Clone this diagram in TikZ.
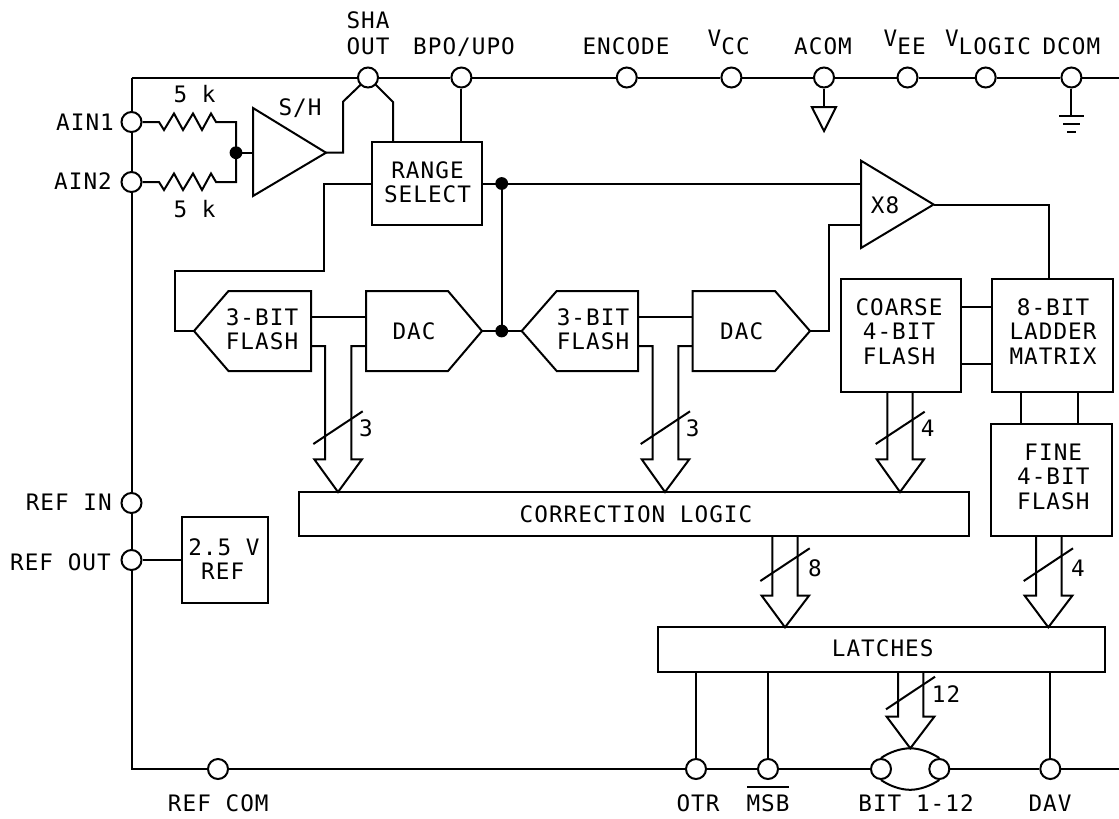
\documentclass[tikz,border=0pt]{standalone}
\usepackage{fontspec}
\setmainfont{DejaVu Sans Mono}[LetterSpace=4.5]
\usetikzlibrary{fit}
\newcommand{\Vup}{\raisebox{5.8pt}{V}}
\tikzset{
  wire/.style={line width=1.5pt,line join=miter,black},
  lbl/.style={anchor=base,inner sep=0pt,font=\fontsize{17}{20}\selectfont},
  term/.style={circle,draw,wire,fill=white,minimum size=15pt,inner sep=0pt},
  dotj/.style={circle,fill=black,minimum size=9.6pt,inner sep=0pt},
  blockb/.style={rectangle,draw,wire,fill=white,inner sep=0pt},
}
\begin{document}
\begin{tikzpicture}[x=0.75pt,y=-0.75pt]
\useasboundingbox (0,0) rectangle (1119,818);
% rail corners
\coordinate (tl) at (131.5,77.5);
\coordinate (tr) at (1119,77.5);
\coordinate (bl) at (131.5,769);
\coordinate (br) at (1119,769);
% terminals
\node[term] (sha) at (368,77.5) {};
\node[term] (bpo) at (461.4,77.5) {};
\node[term] (enc) at (626.8,77.5) {};
\node[term] (vcc) at (731.4,77.5) {};
\node[term] (acom) at (824,77.5) {};
\node[term] (vee) at (907.5,77.5) {};
\node[term] (vlog) at (985.7,77.5) {};
\node[term] (dcom) at (1071.4,77.5) {};
\node[term] (ain1) at (131.5,122) {};
\node[term] (ain2) at (131.5,182) {};
\node[term] (refin) at (131.5,503) {};
\node[term] (refout) at (131.5,560) {};
\node[term] (refcom) at (218,769) {};
\node[term] (otr) at (696,769) {};
\node[term] (msb) at (768,769) {};
\node[term] (bitl) at (881,769) {};
\node[term] (bitr) at (939.3,769) {};
\node[term] (dav) at (1050.3,769) {};
% rails
\draw[wire] (tl) -- (sha) -- (bpo) -- (enc) -- (vcc) -- (acom) -- (vee) -- (vlog) -- (dcom) -- (tr);
\draw[wire] (tl) -- (ain1) -- (ain2) -- (refin) -- (refout) -- (bl) -- (refcom) -- (otr) -- (msb) -- (bitl);
\draw[wire] (bitr) -- (dav) -- (br);
% BIT lens
\coordinate (lensT) at (910.2,748.3);
\coordinate (lensB) at (910.2,789.8);
\draw[wire] (bitl.north) .. controls (889,752.5) and (900,748.3) .. (lensT) .. controls (920,748.3) and (931,752.5) .. (bitr.north);
\draw[wire] (bitl.south) .. controls (889,785.5) and (900,789.8) .. (lensB) .. controls (920,789.8) and (931,785.5) .. (bitr.south);
% grounds
\coordinate (agnd) at (824,107);
\draw[wire] (acom) -- (agnd);
\draw[wire] (811.8,107) -- (836,107) -- (824,131) -- cycle;
\coordinate (dgnd) at (1071.4,115.7);
\draw[wire] (dcom) -- (dgnd);
\draw[wire] (1059,115.7) -- (1084,115.7);
\draw[wire] (1063,124) -- (1080,124);
\draw[wire] (1067,132.3) -- (1076,132.3);
% resistors
\coordinate (sum) at (236,152.7);
\coordinate (r1e) at (236,122);
\coordinate (r2e) at (236,182);
\draw[wire] (ain1) -- (159,122) -- (164,130) -- (174,113.5) -- (183,130) -- (193,113.5) -- (202,130) -- (211,113.5) -- (216,122) -- (r1e) -- (sum);
\draw[wire] (ain2) -- (159,182) -- (164,190) -- (174,173.5) -- (183,190) -- (193,173.5) -- (202,190) -- (211,173.5) -- (216,182) -- (r2e) -- (sum);
% S/H
\coordinate (shIn) at (253,152.7);
\coordinate (shOut) at (326,152.7);
\draw[wire] (253,108) -- (253,196) -- (shOut) -- cycle;
\draw[wire] (sum) -- (shIn);
\node[dotj] (sumdot) at (sum) {};
\coordinate (shaL) at (361.4,84);
\coordinate (shaR) at (375,84);
\draw[wire] (shOut) -- (343,152.7) -- (343,101.7) -- (shaL);
% blocks
\coordinate (rs1) at (372,142); \coordinate (rs2) at (482,225);
\node[blockb,fit={(rs1)(rs2)}] (range) {};
\draw[wire] (shaR) -- (393,102) -- (393,142);
\draw[wire] (bpo) -- (461.4,142);
\coordinate (vr1) at (182,517); \coordinate (vr2) at (267.7,603);
\node[blockb,fit={(vr1)(vr2)}] (vref) {};
\draw[wire] (refout) -- (vref.west |- refout);
\coordinate (co1) at (840.7,278.7); \coordinate (co2) at (961,391.7);
\node[blockb,fit={(co1)(co2)}] (coarse) {};
\coordinate (la1) at (992,278.7); \coordinate (la2) at (1113,391.7);
\node[blockb,fit={(la1)(la2)}] (ladder) {};
\coordinate (fi1) at (991.3,424.3); \coordinate (fi2) at (1111.7,536.3);
\node[blockb,fit={(fi1)(fi2)}] (fine) {};
\coordinate (cl1) at (298.7,492); \coordinate (cl2) at (969,536.3);
\node[blockb,fit={(cl1)(cl2)}] (corr) {};
\coordinate (lt1) at (658.3,627.3); \coordinate (lt2) at (1105,671.7);
\node[blockb,fit={(lt1)(lt2)}] (latch) {};
% flash / DAC
\draw[wire] (194,331) -- (228.5,291) -- (311,291) -- (311,371) -- (228.5,371) -- cycle;
\draw[wire] (366,291) -- (448,291) -- (482,331) -- (448,371) -- (366,371) -- cycle;
\draw[wire] (521.7,331) -- (556.7,291) -- (638,291) -- (638,371) -- (556.7,371) -- cycle;
\draw[wire] (692.7,291) -- (775,291) -- (810,331) -- (775,371) -- (692.7,371) -- cycle;
\coordinate (fl1tip) at (194,331);
\coordinate (dac1tip) at (482,331);
\coordinate (fl2tip) at (521.7,331);
\coordinate (dac2tip) at (810,331);
\draw[wire] (311,316.5) -- (366,316.5);
\draw[wire] (638,316.5) -- (692.7,316.5);
% X8
\coordinate (x8a) at (861,183.5);
\coordinate (x8b) at (861,225);
\coordinate (x8o) at (933.6,204.5);
\draw[wire] (861,160.7) -- (861,248) -- (x8o) -- cycle;
% signal wires
\coordinate (rsOut) at (482,183.5);
\coordinate (jt) at (501.7,183.5);
\coordinate (jb) at (501.7,331);
\draw[wire] (rsOut) -- (x8a);
\draw[wire] (jt) -- (jb);
\draw[wire] (dac1tip) -- (fl2tip);
\node[dotj] (jtdot) at (jt) {};
\node[dotj] (jbdot) at (jb) {};
\draw[wire] (372,183.5) -- (324,183.5) -- (324,271) -- (175,271) -- (175,331) -- (fl1tip);
\draw[wire] (dac2tip) -- (828.6,331) -- (828.6,225) -- (x8b);
\draw[wire] (x8o) -- (1049,204.5) -- (1049,278.7);
\draw[wire] (961,306.7) -- (992,306.7);
\draw[wire] (961,363.7) -- (992,363.7);
\draw[wire] (1020.5,391.7) -- (1020.5,424.3);
\draw[wire] (1077.5,391.7) -- (1077.5,424.3);
% latch outputs
\draw[wire] (otr |- latch.south) -- (otr);
\draw[wire] (msb |- latch.south) -- (msb);
\draw[wire] (dav |- latch.south) -- (dav);
% buses
\draw[wire] (311,346) -- (325,346) -- (325,459.3) -- (314.3,459.3) -- (338,492) -- (362,459.3) -- (351.3,459.3) -- (351.3,346) -- (366,346);
\draw[wire] (313.3,444) -- (362.7,411.3);
\draw[wire] (638,346) -- (652.7,346) -- (652.7,459.3) -- (641.7,459.3) -- (665,492) -- (689.3,459.3) -- (678.3,459.3) -- (678.3,346) -- (692.7,346);
\draw[wire] (640.7,444) -- (690,411.3);
\draw[wire] (887.3,391.7) -- (887.3,459.3) -- (876.7,459.3) -- (900,492) -- (924,459.3) -- (912.7,459.3) -- (912.7,391.7);
\draw[wire] (875.7,444) -- (924.7,411.7);
\draw[wire] (772.3,536.3) -- (772.3,595.7) -- (761.7,595.7) -- (785,627.3) -- (809,595.7) -- (797.7,595.7) -- (797.7,536.3);
\draw[wire] (760.3,581) -- (809.7,548.3);
\draw[wire] (1036,536.3) -- (1036,595.7) -- (1024.7,595.7) -- (1048.3,627.3) -- (1072.3,595.7) -- (1061.7,595.7) -- (1061.7,536.3);
\draw[wire] (1023.7,581) -- (1073,548.3);
\draw[wire] (898,671.7) -- (898,716.7) -- (886.7,716.7) -- (910.3,748.3) -- (934.3,716.7) -- (923.3,716.7) -- (923.3,671.7);
\draw[wire] (886,709.3) -- (935,676.7);
% MSB bar
\coordinate (barL) at (747,786.7);
\coordinate (barR) at (789,786.7);
\draw[wire] (barL) -- (barR);
% labels
\node[lbl] (tSHA) at (368,28) {SHA};
\node[lbl] (tOUT) at (368,54) {OUT};
\node[lbl] (tBPO) at (464,54) {BPO/UPO};
\node[lbl] (tENC) at (626,54) {ENCODE};
\node[lbl] (tVCC) at (728.7,54) {\Vup CC};
\node[lbl] (tACOM) at (823,54) {ACOM};
\node[lbl] (tVEE) at (904.7,54) {\Vup EE};
\node[lbl] (tVLOG) at (988,54) {\Vup LOGIC};
\node[lbl] (tDCOM) at (1071.4,54) {DCOM};
\node[lbl] (tAIN1) at (85,130) {AIN1};
\node[lbl] (tAIN2) at (83,189.5) {AIN2};
\node[lbl] (tR1) at (194.6,102.7) {5 k};
\node[lbl] (tR2) at (194.6,217) {5 k};
\node[lbl] (tSH) at (300,115) {S/H};
\node[lbl] (tRA) at (427.5,178) {RANGE};
\node[lbl] (tSE) at (427.5,202) {SELECT};
\node[lbl] (tF1a) at (262,325.5) {3-BIT};
\node[lbl] (tF1b) at (262,349.8) {FLASH};
\node[lbl] (tD1) at (414,339.3) {DAC};
\node[lbl] (tF2a) at (593,325.5) {3-BIT};
\node[lbl] (tF2b) at (593,349.8) {FLASH};
\node[lbl] (tD2) at (741.7,339.3) {DAC};
\node[lbl] (tX8) at (885,213) {X8};
\node[lbl] (tCa) at (899,315) {COARSE};
\node[lbl] (tCb) at (899,339.5) {4-BIT};
\node[lbl] (tCc) at (899,364) {FLASH};
\node[lbl] (tLa) at (1053,315) {8-BIT};
\node[lbl] (tLb) at (1053,339.5) {LADDER};
\node[lbl] (tLc) at (1053,364) {MATRIX};
\node[lbl] (tFa) at (1053.3,460) {FINE};
\node[lbl] (tFb) at (1053.3,484.7) {4-BIT};
\node[lbl] (tFc) at (1053.3,509) {FLASH};
\node[lbl] (tCL) at (636,522.3) {CORRECTION LOGIC};
\node[lbl] (tLAT) at (882.7,656.7) {LATCHES};
\node[lbl] (tB3a) at (366,436.7) {3};
\node[lbl] (tB3b) at (692.7,436.7) {3};
\node[lbl] (tB4a) at (927.7,436.7) {4};
\node[lbl] (tB8) at (815,576) {8};
\node[lbl] (tB4b) at (1078,576) {4};
\node[lbl] (tB12) at (946,702) {12};
\node[lbl] (tVa) at (224,555) {2.5 V};
\node[lbl] (tVb) at (222.7,579) {REF};
\node[lbl,anchor=base east] (tRI) at (112,510.7) {REF IN};
\node[lbl,anchor=base east] (tRO) at (111,570) {REF OUT};
\node[lbl] (tRC) at (218.3,811.7) {REF COM};
\node[lbl] (tOTR) at (698,811.7) {OTR};
\node[lbl] (tMSB) at (768,811.7) {MSB};
\node[lbl] (tBIT) at (916,811.7) {BIT 1-12};
\node[lbl] (tDAV) at (1050,811.7) {DAV};
\end{tikzpicture}
\end{document}
